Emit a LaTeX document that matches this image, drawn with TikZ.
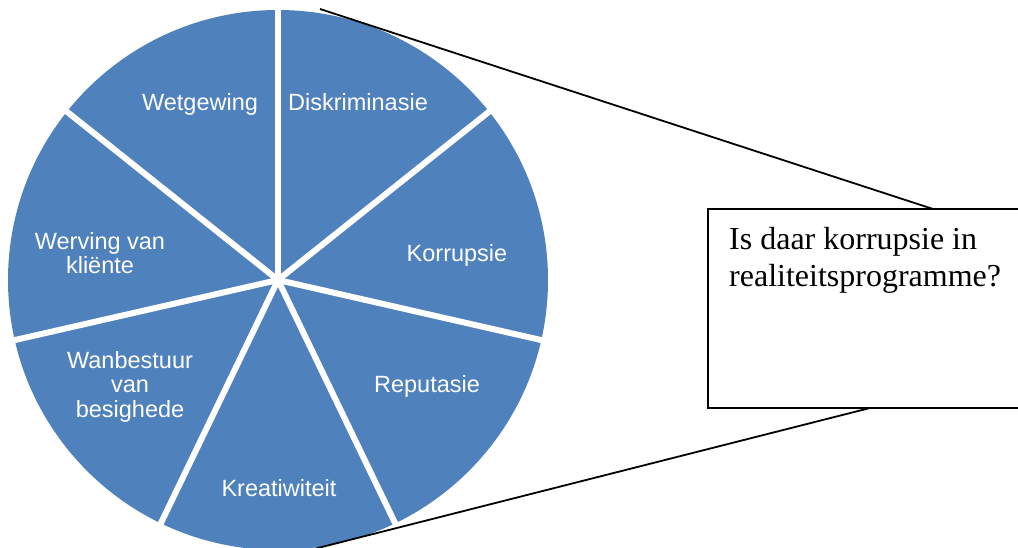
\documentclass[tikz,border=0pt]{standalone}
\usepackage{fontspec}
\setmainfont{Liberation Serif}
\newfontfamily\labelfont{Liberation Sans}
\definecolor{pieblue}{HTML}{4F81BD}
\begin{document}
\begin{tikzpicture}[x=1pt,y=-1pt,
  slicelabel/.style={text=white,font=\labelfont\fontsize{23.5}{24.5}\selectfont,inner sep=0pt,align=center,anchor=base},
  sepline/.style={white,line width=6pt},
  callout/.style={black,line width=1.8pt},
  qbox/.style={draw=black,line width=1.6pt,fill=white}]
\useasboundingbox (0,0) rectangle (1018,548);
\clip (0,0) rectangle (1018,548);
\coordinate (c) at (278,280);
\fill[pieblue] (c) circle[radius=270];
\foreach \i in {0,...,6}{
  \draw[sepline] (c) -- ++({90-\i*360/7}:-280);
}
% callout
\coordinate (t1) at (320,9);
\coordinate (b1) at (310,550);
\draw[qbox] (708,209) rectangle (1022,408);
\coordinate (t2) at (933,209);
\coordinate (b2) at (870,408);
\draw[callout] (t1) -- (t2);
\draw[callout] (b2) -- (b1);
\node[anchor=base west,inner sep=0pt,align=left,font=\fontsize{32}{37}\selectfont] (q) at (729,287) {Is daar korrupsie in\\realiteitsprogramme?};
% labels
\node[slicelabel] (l1) at (200,111) {Wetgewing};
\node[slicelabel] (l2) at (358,111) {Diskriminasie};
\node[slicelabel] (l3) at (457,262) {Korrupsie};
\node[slicelabel] (l4) at (427,392) {Reputasie};
\node[slicelabel] (l5) at (279,496) {Kreatiwiteit};
\node[slicelabel] (l6) at (130,417) {Wanbestuur\\van\\besighede};
\node[slicelabel] (l7) at (100,274) {Werving van\\kliënte};
\end{tikzpicture}
\end{document}
